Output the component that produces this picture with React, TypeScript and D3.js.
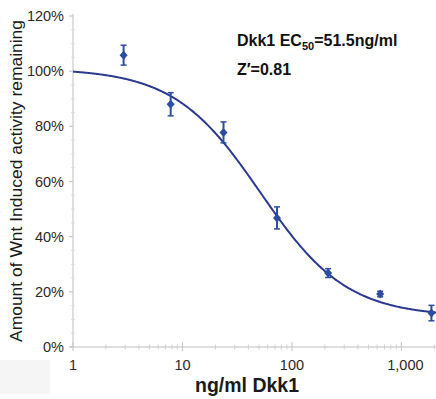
import React from "react";
import * as d3 from "d3";

const concentrations = [2.9, 7.8, 23.7, 73, 214, 640, 1880];
const activity = [105.8, 88.0, 77.8, 46.8, 26.8, 19.2, 12.3];
const errors = [3.6, 4.2, 3.8, 4.0, 1.6, 1.0, 2.8];
const yTicks = [0, 20, 40, 60, 80, 100, 120];
const xTicks = [1, 10, 100, 1000];
// 4-parameter logistic fit shown in the figure
const fitTop = 101;
const fitBottom = 11;
const fitEC50 = 51.5;
const fitHill = 1.1;

const W = 436;
const H = 399;
const FONT = "'Liberation Sans', Arial, sans-serif";

export default function App() {
  const x = d3.scaleLog().domain([1, 2070]).range([73, 436]);
  const y = d3.scaleLinear().domain([0, 120]).range([347, 16]);
  const blue = "#2c4da3";
  const fitFn = (c: number) => fitBottom + (fitTop - fitBottom) / (1 + Math.pow(c / fitEC50, fitHill));
  const curveX = d3.range(0, 301).map((i) => Math.pow(10, (i / 300) * Math.log10(2070)));
  const line = d3
    .line<number>()
    .x((c) => x(c))
    .y((c) => y(fitFn(c)))
    .curve(d3.curveMonotoneX);
  const minorY = d3.range(0, 121, 5).filter((v) => v % 20 !== 0);
  const minorX: number[] = [];
  [1, 10, 100, 1000].forEach((d) => {
    for (let k = 2; k <= 9; k++) if (d * k <= 2070) minorX.push(d * k);
  });
  const fmt = d3.format(",");
  return (
    <svg width={W} height={H} style={{ position: "absolute", left: 0, top: 0, background: "#fff" }} fontFamily={FONT}>
      <rect x={0} y={360} width={50} height={34} fill="#f5f5f5" />
      {/* axes */}
      <line x1={73} x2={73} y1={14} y2={348} stroke="#d4d4d4" strokeWidth={1.5} />
      <line x1={70} x2={436} y1={347} y2={347} stroke="#d4d4d4" strokeWidth={1.5} />
      {yTicks.map((t) => (
        <g key={"yt" + t}>
          <line x1={69} x2={73} y1={y(t)} y2={y(t)} stroke="#c8c8c8" strokeWidth={1.2} />
          <text x={64} y={y(t)} dy="0.35em" textAnchor="end" fontSize={14.5} fill="#2a2a2a">
            {t + "%"}
          </text>
        </g>
      ))}
      {minorY.map((t) => (
        <line key={"ym" + t} x1={71} x2={75} y1={y(t)} y2={y(t)} stroke="#dcdcdc" strokeWidth={1} />
      ))}
      {xTicks.map((t) => (
        <g key={"xt" + t}>
          <line x1={x(t)} x2={x(t)} y1={342} y2={351} stroke="#c8c8c8" strokeWidth={1.2} />
          <text x={x(t) + (t === 1000 ? 4 : 0)} y={370} textAnchor="middle" fontSize={14.5} fill="#2a2a2a">
            {fmt(t)}
          </text>
        </g>
      ))}
      {minorX.map((t) => (
        <line key={"xm" + t} x1={x(t)} x2={x(t)} y1={344.5} y2={349.5} stroke="#d0d0d0" strokeWidth={1} />
      ))}
      {/* axis titles */}
      <text
        transform={`translate(22,181) rotate(-90)`}
        textAnchor="middle"
        fontSize={16}
        fill="#1a1a1a"
        textLength={322}
        lengthAdjust="spacingAndGlyphs"
      >
        Amount of Wnt Induced activity remaining
      </text>
      <text x={247} y={392} textAnchor="middle" fontSize={19.5} fontWeight="bold" fill="#1a1a1a">
        ng/ml Dkk1
      </text>
      {/* fit curve */}
      <path d={line(curveX) || ""} fill="none" stroke="#2b3990" strokeWidth={2} />
      {/* data with error bars */}
      {concentrations.map((c, i) => {
        const cx = x(c);
        const y0 = y(activity[i] - errors[i]);
        const y1 = y(activity[i] + errors[i]);
        const cy = y(activity[i]);
        return (
          <g key={"p" + i} stroke={blue} fill={blue}>
            <line x1={cx} x2={cx} y1={y0} y2={y1} strokeWidth={2} />
            <line x1={cx - 3} x2={cx + 3} y1={y0} y2={y0} strokeWidth={1.5} />
            <line x1={cx - 3} x2={cx + 3} y1={y1} y2={y1} strokeWidth={1.5} />
            <path d={`M${cx},${cy - 4.5}L${cx + 4},${cy}L${cx},${cy + 4.5}L${cx - 4},${cy}Z`} stroke="none" />
          </g>
        );
      })}
      {/* annotation */}
      <text x={237} y={46} fontSize={16} fontWeight="bold" fill="#111">
        Dkk1 EC<tspan fontSize={11} dy={4}>50</tspan>
        <tspan dy={-4}>=51.5ng/ml</tspan>
      </text>
      <text x={237} y={75} fontSize={16} fontWeight="bold" fill="#111">
        Z′=0.81
      </text>
    </svg>
  );
}
